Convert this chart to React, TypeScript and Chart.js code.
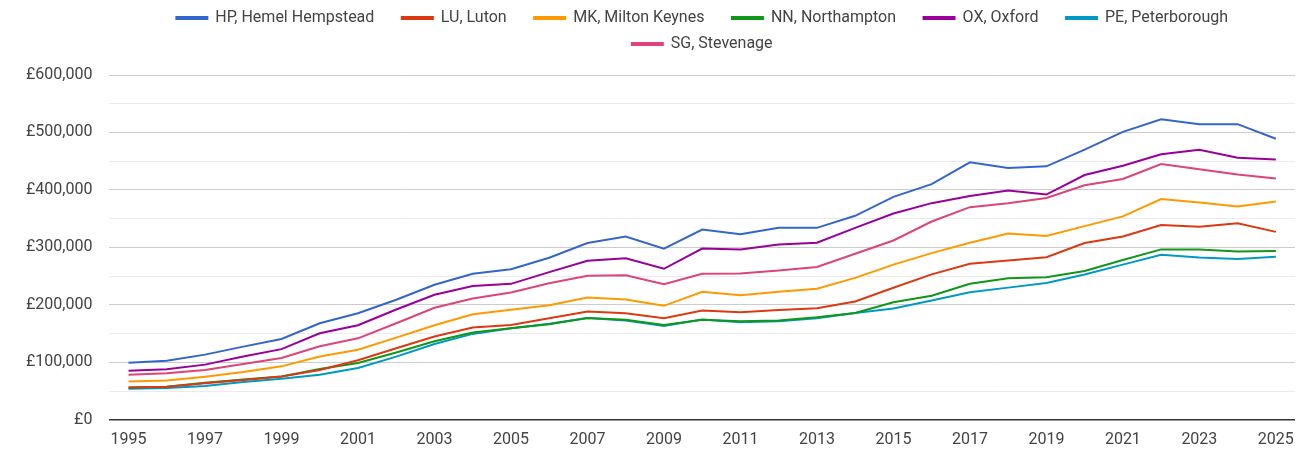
import React, { useEffect, useRef } from "react";
import { Chart, registerables } from "chart.js";

Chart.register(...registerables);

const years = Array.from({ length: 31 }, (_, i) => String(1995 + i));

const HP = [99400, 102900, 113400, 127300, 140700, 168000, 185500, 209000, 235000, 254000, 262000, 282000, 307500, 319000, 297700, 331000, 323000, 334000, 334000, 355000, 388000, 410000, 448000, 438000, 441000, 470000, 501000, 523000, 514500, 514500, 489000];
const LU = [56400, 57600, 63400, 69200, 75500, 86700, 103500, 124500, 144800, 160500, 165000, 176700, 188400, 185500, 176700, 190000, 187000, 191000, 194000, 206000, 229700, 253000, 271600, 277000, 283000, 307500, 319000, 339000, 336000, 342000, 327000];
const MK = [66800, 68600, 75000, 83200, 93000, 110000, 122000, 143000, 164500, 183700, 191300, 199400, 212800, 209300, 198300, 222700, 216900, 222700, 228000, 247000, 270000, 290000, 308000, 324000, 320000, 337000, 354000, 384000, 378000, 371000, 380000];
const NN = [56400, 57600, 64500, 70300, 75500, 88400, 98900, 117000, 136600, 151800, 159300, 166300, 177300, 173900, 165000, 174000, 171500, 172700, 178500, 186000, 204600, 216000, 236700, 246500, 248000, 259000, 278000, 296500, 296500, 293000, 293600];
const OX = [85500, 87800, 96000, 110000, 123000, 150600, 164500, 192000, 217500, 233000, 236600, 257000, 276800, 281000, 262800, 298000, 296500, 305000, 308000, 334000, 359000, 377000, 389500, 399000, 392000, 426000, 442000, 462000, 470000, 456000, 453000];
const PE = [54000, 55300, 58800, 65800, 71500, 78500, 90000, 110000, 132000, 149500, 159300, 167000, 177300, 172700, 163400, 174400, 169800, 171500, 176700, 186000, 193600, 207600, 222000, 230000, 238000, 253000, 270000, 287000, 282600, 279700, 283700];
const SG = [78500, 80800, 86700, 97000, 107600, 128000, 141800, 168000, 195000, 211000, 221500, 237700, 250600, 251700, 236000, 254000, 254700, 260000, 266000, 289000, 312000, 345000, 370000, 377000, 386000, 408000, 419000, 445000, 436000, 427000, 420000];

const seriesNames = ["HP, Hemel Hempstead", "LU, Luton", "MK, Milton Keynes", "NN, Northampton", "OX, Oxford", "PE, Peterborough", "SG, Stevenage"];
const seriesData = [HP, LU, MK, NN, OX, PE, SG];
const seriesColors = ["#3366cc", "#dc3912", "#ff9900", "#109618", "#990099", "#0099c6", "#dd4477"];

export default function App() {
  const ref = useRef<HTMLCanvasElement>(null);
  useEffect(() => {
    if (!ref.current) return;
    const font = { family: "Roboto, Arial, sans-serif", size: 16 };
    const chart = new Chart(ref.current, {
      type: "line",
      data: {
        labels: years,
        datasets: seriesNames.map((n, i) => ({
          label: n,
          data: seriesData[i],
          borderColor: seriesColors[i],
          backgroundColor: seriesColors[i],
          borderWidth: 2,
          pointRadius: 0,
          tension: 0,
        })),
      },
      options: {
        animation: false,
        responsive: true,
        maintainAspectRatio: false,
        layout: { padding: { left: 9, right: 8, top: 0, bottom: -11 } },
        plugins: {
          title: {
            display: true,
            text: " ",
            weight: 500,
            padding: 0,
            font: { size: 10, lineHeight: 1.3 },
          } as any,
          legend: {
            position: "top",
            fullSize: false,
            labels: {
              boxWidth: 31,
              boxHeight: 2,
              color: "#444",
              font,
              padding: 10,
              generateLabels: (c: any) =>
                Chart.defaults.plugins.legend.labels.generateLabels(c).map((l: any, i: number) => ({
                  ...l,
                  text: i === 5 || i === 6 ? l.text : l.text + "    \u200A",
                })),
            },
          },
          tooltip: { enabled: false },
        },
        scales: {
          x: {
            offset: true,
            grid: { display: false, drawTicks: false },
            border: { display: true, color: "#333", width: 1.5 },
            ticks: {
              autoSkip: false,
              maxRotation: 0,
              color: "#444",
              font,
              padding: 11,
              callback: (_v: any, i: number) => (i % 2 === 0 ? years[i] : ""),
            },
          },
          y: {
            min: 0,
            max: 600000,
            border: { display: false },
            grid: {
              color: (ctx: any) => (ctx.tick && ctx.tick.value % 100000 === 0 ? "#cccccc" : "#ebebeb"),
              drawTicks: false,
            },
            ticks: {
              stepSize: 50000,
              color: "#444",
              font,
              padding: 17,
              callback: (v: any) => (Number(v) % 100000 === 0 ? "£" + Number(v).toLocaleString("en-GB") : ""),
            },
          },
        },
      },
    });
    return () => chart.destroy();
  }, []);
  return (
    <div style={{ position: "fixed", left: 0, top: 0, width: 1305, height: 450 }}>
      <canvas ref={ref} />
    </div>
  );
}
